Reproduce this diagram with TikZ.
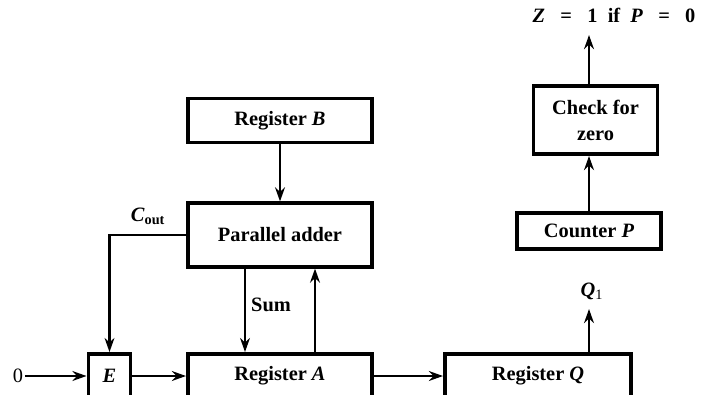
\documentclass[tikz,border=0pt]{standalone}
\usepackage{fontspec}
\setmainfont{Liberation Serif}
\usetikzlibrary{arrows.meta, calc}
\newcommand{\regfont}{\fontsize{14.5}{18.5}\selectfont\bfseries}
\newcommand{\eqsp}{\hspace{0.75em}}
\tikzset{
  reg/.style={
    rectangle, draw=black, line width=2.8pt,
    font=\regfont, align=center, inner sep=2pt,
    minimum width=4.6cm, minimum height=1.1cm,
  },
  arr/.style={
    -{Stealth[length=10pt,width=7pt]},
    line width=2pt,
  },
  tarr/.style={
    arr, line width=1.5pt,
  },
  lbl/.style={
    font=\regfont, inner sep=1pt,
  },
}
\begin{document}
\begin{tikzpicture}[x=0.025cm,y=-0.025cm]
  \useasboundingbox (0,0) rectangle (707,394);
  \clip (0,0) rectangle (707,394);
  % registers and adder
  \node[reg] (regB) at (280,120.5) {Register \textit{B}};
  \node[reg, minimum height=1.58cm] (adder) at (280,235) {Parallel adder};
  \node[reg] (regA) at (280,376) {Register \textit{A}};
  \node[reg, minimum width=1.05cm] (regE) at (109.5,376) {\textit{E}};
  \node[reg, minimum width=4.65cm] (regQ) at (538,376) {Register \textit{Q}};
  \node[lbl, font=\fontsize{14.5}{18.5}\selectfont] (zero) at (18,376) {0};
  % counter and zero check
  \node[reg, minimum width=3.1cm, minimum height=1.7cm] (check) at (595.5,120) {Check for\\zero};
  \node[reg, minimum width=3.6cm, minimum height=0.9cm] (cntP) at (589,231) {Counter \textit{P}};
  \coordinate (zout) at (589,35);
  \coordinate (qout) at (589,309);
  % labels
  \node[lbl, anchor=west] (zlab) at (531,15) {\textit{Z}\eqsp=\eqsp1\hspace{0.5em}if\hspace{0.5em}\textit{P}\eqsp=\eqsp0};
  \node[lbl] (qlab) at (592,291) {\textit{Q}{\mdseries\textsubscript{1}}};
  \node[lbl] (coutlab) at (148,216) {\textit{C}\textsubscript{out}};
  \node[lbl] (sumlab) at (271,305) {Sum};
  % connections
  \draw[arr] (regB) -- (adder);
  \draw[tarr] (adder.west) -| (regE.north);
  \draw[tarr] ($(adder.south)+(-35,0)$) -- ($(regA.north)+(-35,0)$);
  \draw[arr] ($(regA.north)+(35,0)$) -- ($(adder.south)+(35,0)$);
  \draw[arr] (zero) -- (regE);
  \draw[arr] (regE) -- (regA);
  \draw[arr] (regA) -- (regQ);
  \draw[tarr] (regQ.north -| qout) -- (qout);
  \draw[arr] (cntP) -- (cntP.north |- check.south);
  \draw[arr] (check.north -| zout) -- (zout);
\end{tikzpicture}
\end{document}
